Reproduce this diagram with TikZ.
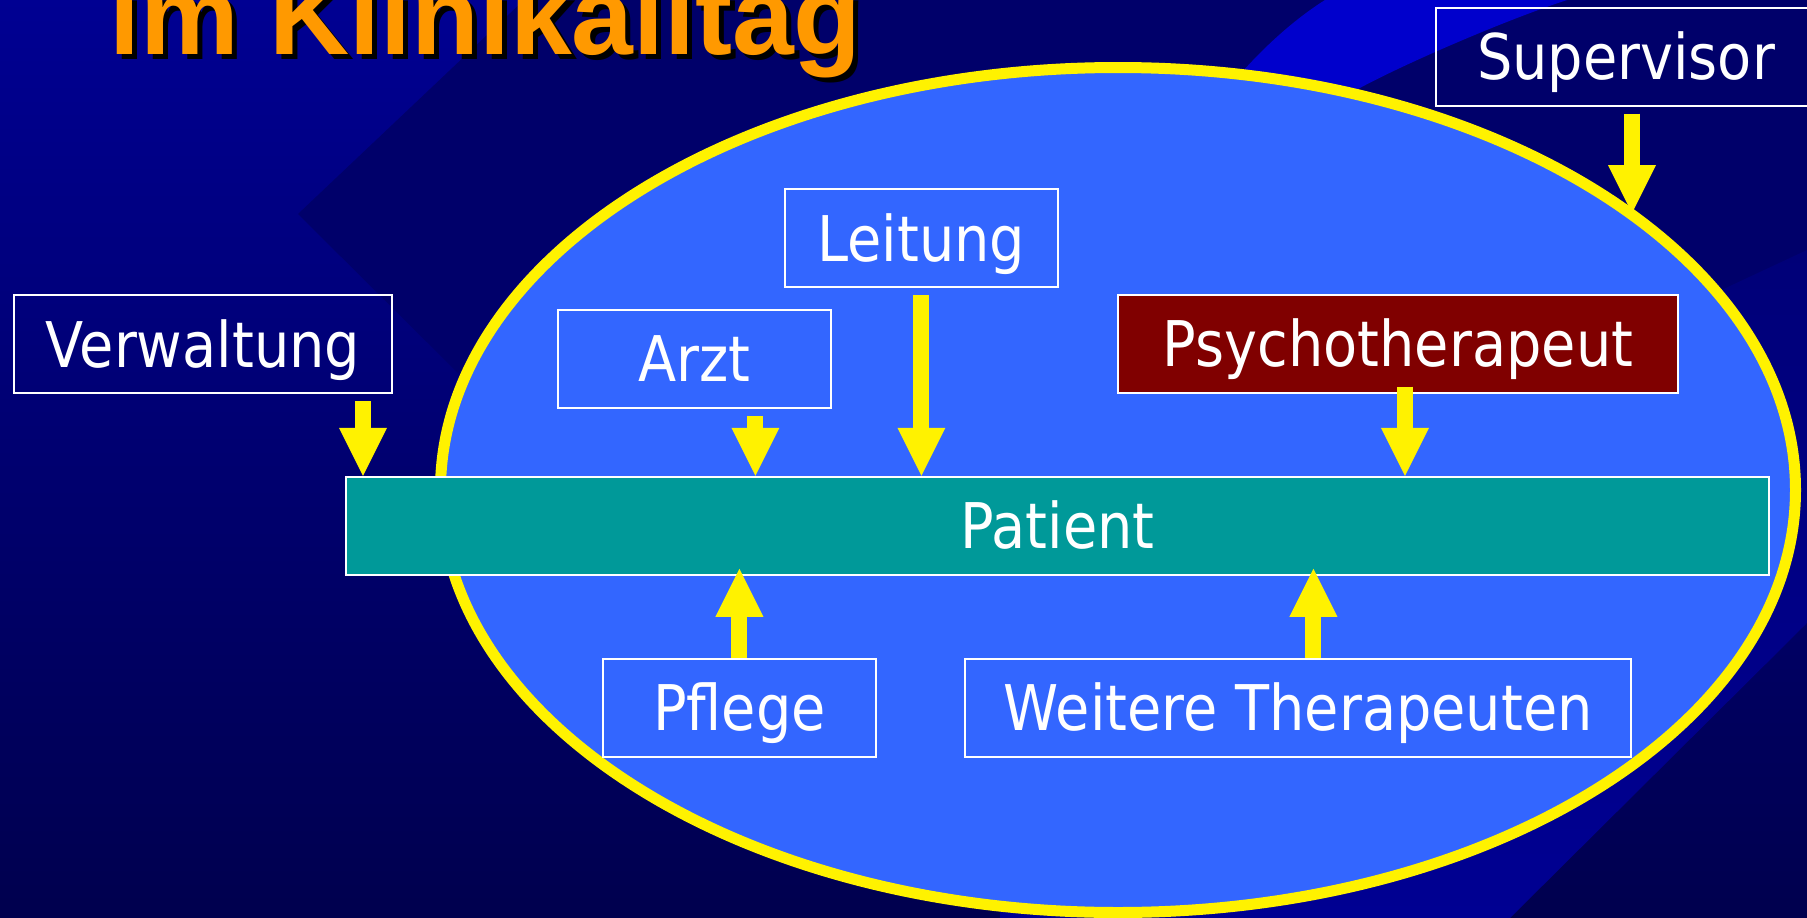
\documentclass[tikz,border=0pt]{standalone}
\usepackage{fontspec}
\setmainfont{DejaVu Sans}[FakeStretch=0.885]
\newfontfamily\titlefont{Liberation Sans}
\usepackage{tikz}
\usetikzlibrary{shapes.geometric, arrows.meta, positioning, calc}

\definecolor{bgtop}{HTML}{000092}
\definecolor{bgbot}{HTML}{00004E}
\definecolor{swath}{HTML}{00006A}
\definecolor{bandtop}{HTML}{000078}
\definecolor{bandbot}{HTML}{000092}
\definecolor{crescent}{HTML}{0000CC}
\definecolor{ellblue}{HTML}{3366FF}
\definecolor{patteal}{HTML}{009999}
\definecolor{psychred}{HTML}{800000}
\definecolor{titleorange}{HTML}{FF9900}

\begin{document}
\begin{tikzpicture}[
        x=1pt, y=-1pt,
        box/.style={rectangle, draw=white, line width=2pt, text=white, minimum height=98pt, inner sep=0pt, text height=46pt, text depth=0pt, font=\fontsize{63}{70}\selectfont},
        arr/.style={draw=yellow, line width=16pt, -{Triangle[width=48pt, length=48pt, line width=0pt]}},
        headline/.style={anchor=base west, inner sep=0pt, font=\titlefont\bfseries\fontsize{111}{120}\selectfont}
    ]
        \useasboundingbox (0,0) rectangle (1807,918);

        % Background
        \shade[top color=bgtop, bottom color=bgbot] (0,0) rectangle (1807,918);
        \fill[swath] (524,0) -- (1807,0) -- (1807,255) -- (1700,300) -- (600,420) -- (470,385) -- (298,214) -- cycle;
        \shade[top color=bandtop, bottom color=bandbot] (1807,250) -- (1807,623) -- (1510,918) -- (1000,918) -- (1000,500) -- (1700,300) -- cycle;
        \fill[crescent] (1225,92) .. controls (1255,55) and (1290,22) .. (1325,0) -- (1567,0) .. controls (1500,22) and (1400,66) .. (1358,89) -- (1330,104) -- cycle;

        % Title (cut at the top)
        \node[headline, text=black] (titleshadow) at (114,59.5) {im Klinikalltag};
        \node[headline, text=titleorange] (title) at (109,54.5) {im Klinikalltag};

        % Clinic ellipse
        \node[ellipse, draw=yellow, line width=11pt, fill=ellblue, minimum width=1355pt, minimum height=845pt, inner sep=0pt] (ell) at (1118,490) {};

        % Roles
        \node[box, minimum width=378pt] (verw) at (203,344) {Verwaltung};
        \node[box, minimum width=273pt] (arzt) at (694.4,358.9) {Arzt};
        \node[box, minimum width=273pt] (leit) at (921.4,238.3) {Leitung};
        \node[box, fill=psychred, minimum width=560pt] (psych) at (1398,343.7) {Psychotherapeut};
        \node[box, minimum width=380pt] (sup) at (1626,56.5) {Supervisor};

        % Patient
        \node[box, fill=patteal, minimum width=1423pt] (pat) at (1057.4,525.8) {Patient};
        \node[box, minimum width=273pt, below=82pt of pat, xshift=-318pt] (pfl) {Pflege};
        \node[box, minimum width=666pt, below=82pt of pat, xshift=241pt] (wt) {Weitere Therapeuten};

        % Arrows onto the patient
        \coordinate (vx) at ([xshift=-30pt]verw.south east);
        \coordinate (ax) at ([xshift=61pt]arzt.south);
        \coordinate (px) at ([xshift=7pt]psych.south);
        \coordinate (sx) at ([xshift=6pt]sup.south);
        \coordinate (wx) at ([xshift=15pt]wt.north);
        \coordinate (pb) at ([yshift=7pt]pat.south);

        \draw[arr] ([yshift=-7pt]vx) -- (vx |- pat.north);
        \draw[arr] ([yshift=-7pt]ax) -- (ax |- pat.north);
        \draw[arr] ([yshift=-7pt]leit.south) -- (leit.south |- pat.north);
        \draw[arr] ([yshift=7pt]px) -- (px |- pat.north);
        \draw[arr] ([yshift=-7pt]sx) -- (sx |- ell.28);
        \draw[arr] (pfl.north) -- (pfl.north |- pb);
        \draw[arr] (wx) -- (wx |- pb);

    \end{tikzpicture}
\end{document}
